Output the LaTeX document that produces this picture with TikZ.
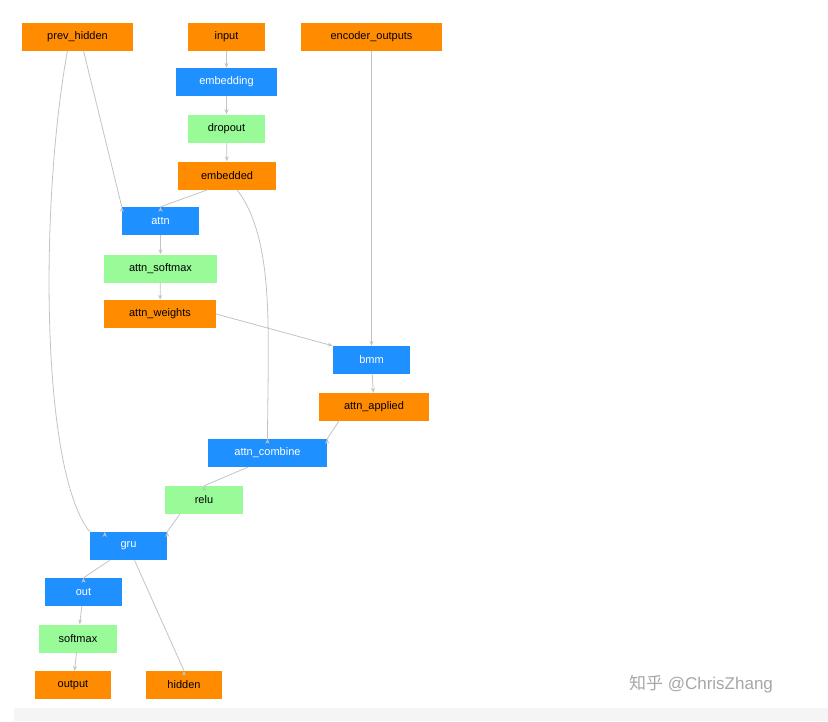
\documentclass[tikz,border=0pt]{standalone}
\usepackage{fontspec}
\setmainfont{Liberation Sans}
\newfontfamily\cjk{Noto Sans CJK SC}
\usetikzlibrary{arrows.meta}
\definecolor{orng}{RGB}{255,140,0}
\definecolor{blu}{RGB}{30,144,255}
\definecolor{grn}{RGB}{152,251,152}
\definecolor{edg}{RGB}{195,195,195}
\begin{document}
\begin{tikzpicture}
[x=1pt, y=-1pt,
   ->/.style={draw=edg, thick, arrows={-Stealth[length=5pt,width=4pt]}},
   tensorN/.style={shape=rectangle, fill=orng, minimum height=28pt, inner sep=0pt, font=\fontsize{11}{13}\selectfont},
   layerN/.style={shape=rectangle, fill=blu, text=white, minimum height=28pt, inner sep=0pt, font=\fontsize{11}{13}\selectfont},
   funcN/.style={shape=rectangle, fill=grn, minimum height=28pt, inner sep=0pt, font=\fontsize{11}{13}\selectfont}]
\useasboundingbox (0,0) rectangle (828,721);
\fill[gray!8] (14,708) rectangle (828,721);
\node[tensorN, minimum width=111pt] (prevh) at (77.5,36.5) {prev\_hidden};
\node[tensorN, minimum width=77pt] (inp) at (226.5,36.5) {input};
\node[tensorN, minimum width=141pt] (encout) at (371.5,36.5) {encoder\_outputs};
\node[layerN, minimum width=101pt] (embg) at (226.5,82) {embedding};
\node[funcN, minimum width=77pt] (drop) at (226.5,128.5) {dropout};
\node[tensorN, minimum width=98pt] (embd) at (227,175.5) {embedded};
\node[layerN, minimum width=77pt] (attn) at (160.5,221) {attn};
\node[funcN, minimum width=113pt] (attnsm) at (160.5,268.5) {attn\_softmax};
\node[tensorN, minimum width=112pt] (attnw) at (160,314) {attn\_weights};
\node[layerN, minimum width=77pt] (bmm) at (371.5,360) {bmm};
\node[tensorN, minimum width=110pt] (attnap) at (374,407) {attn\_applied};
\node[layerN, minimum width=119pt] (attncb) at (267.5,453) {attn\_combine};
\node[funcN, minimum width=78pt] (relu) at (204,500) {relu};
\node[layerN, minimum width=77pt] (gru) at (128.5,546) {gru};
\node[layerN, minimum width=77pt] (out) at (83.5,592) {out};
\node[funcN, minimum width=78pt] (smax) at (78,638.5) {softmax};
\node[tensorN, minimum width=76pt] (outp) at (73,685) {output};
\node[tensorN, minimum width=76pt] (hid) at (184,685) {hidden};
\node[text=gray!70, font=\fontsize{17}{19}\selectfont] (wm) at (701,684) {{\cjk 知乎} @ChrisZhang};
% edges
\draw[->] (prevh.south) ++(6,0) -- (attn.north west) ++(0,0);
\draw[->] (inp) -- (embg);
\draw[->] (embg) -- (drop);
\draw[->] (drop) -- (embd);
\draw[->] (embd.south west) ++(30,0) -- (attn.north) ++(0,0);
\draw[->] (attn) -- (attnsm);
\draw[->] (attnsm) -- (attnw);
\draw[->] (attnw.east) -- (bmm.north west);
\draw[->] (encout) -- (bmm);
\draw[->] (bmm) -- (attnap);
\draw[->] (attnap.south west) ++(20,0) -- (attncb.north east) ++(0,0);
\draw[->] (attncb.south west) ++(40,0) -- (relu.north) ++(0,0);
\draw[->] (relu.south west) ++(15,0) -- (gru.north east) ++(0,0);
\draw[->] (gru.south west) ++(20,0) -- (out.north) ++(0,0);
\draw[->] (out) -- (smax);
\draw[->] (smax) -- (outp);
\draw[->] (gru.south) ++(6,0) -- (hid.north) ++(0,0);
\draw[->] (prevh.south) ++(-10,0) .. controls (40,200) and (40,470) .. (gru.north west) ++(15,0);
\draw[->] (embd.south) ++(10,0) .. controls (275,240) and (268,330) .. (attncb.north) ++(0,0);
\end{tikzpicture}
\end{document}
